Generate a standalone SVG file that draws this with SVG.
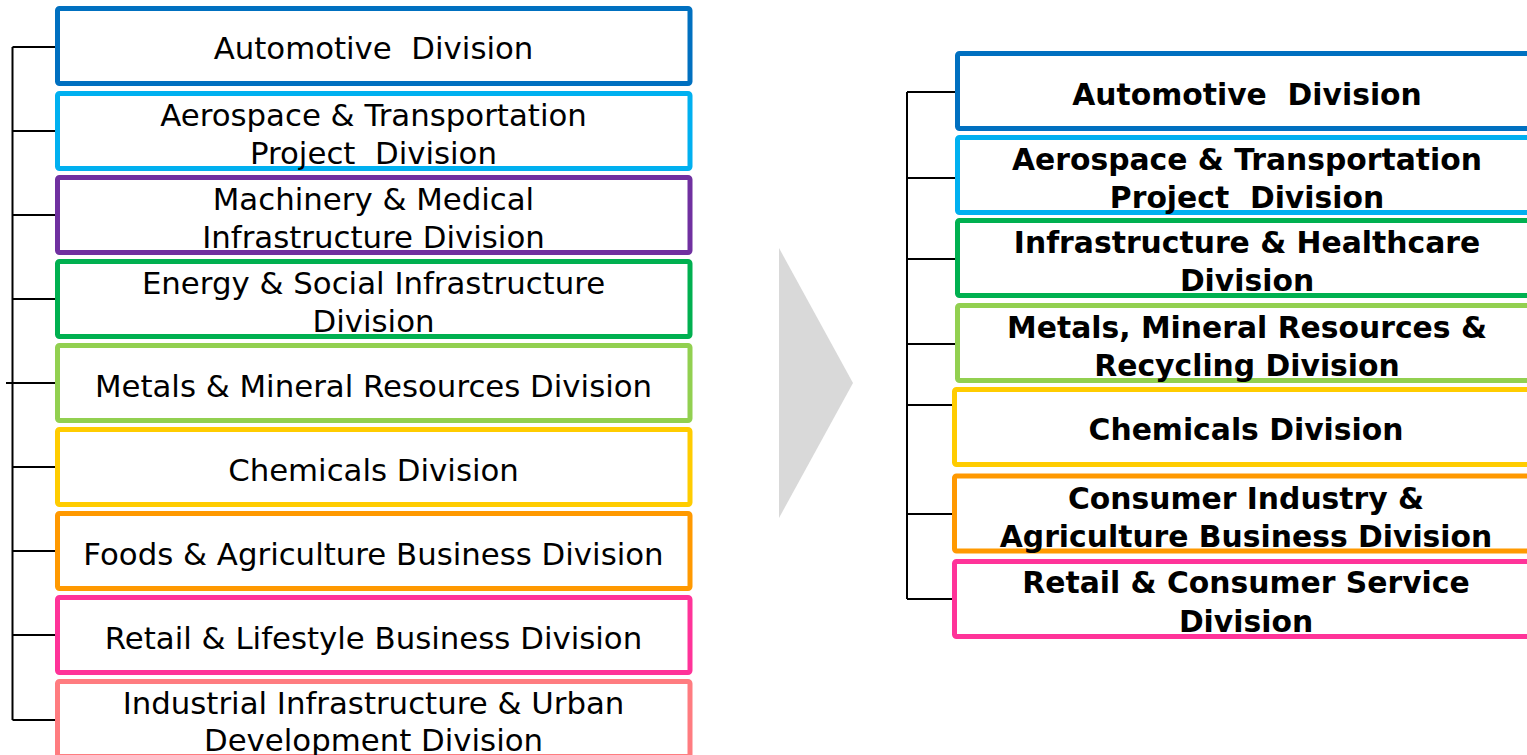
<svg xmlns="http://www.w3.org/2000/svg" width="1527" height="755" viewBox="0 0 1527 755">
<style>
.box{fill:#fff;stroke-width:5;}
.lt{font-family:"DejaVu Sans","Noto Sans",sans-serif;font-size:30.8px;fill:#000;text-anchor:middle;white-space:pre;}
.rt{font-family:"DejaVu Sans","Noto Sans",sans-serif;font-size:29.8px;font-weight:bold;fill:#000;text-anchor:middle;white-space:pre;}
.conn{stroke:#000;stroke-width:2;fill:none;}
</style>
<rect width="1527" height="755" fill="#fff"/>
<g id="connectors">
<path class="conn" d="M12.5,47V720M12.5,47H57M12.5,131H57M12.5,215H57M12.5,299H57M6,383H57M12.5,467H57M12.5,551H57M12.5,635H57M12.5,720H60"/>
<path class="conn" d="M907,92V599M907,92H957M907,178H957M907,259H957M907,344H957M907,405H955M907,514H955M907,599H955"/>
</g>
<g id="arrow"><polygon points="779,248 853,383 779,518" fill="#d9d9d9"/></g>
<g id="l1"><rect class="box" x="57.5" y="8.5" width="632.5" height="75" rx="2" stroke="#0070c0"/><text class="lt" x="373.5" y="59" xml:space="preserve">Automotive  Division</text></g>
<g id="l2"><rect class="box" x="57.5" y="93.5" width="632.5" height="75" rx="2" stroke="#00b0f0"/><text class="lt" x="373.5" y="125.5">Aerospace &amp; Transportation</text><text class="lt" x="373.5" y="163.5" xml:space="preserve">Project  Division</text></g>
<g id="l3"><rect class="box" x="57.5" y="177.5" width="632.5" height="75" rx="2" stroke="#7030a0"/><text class="lt" x="373.5" y="209.5">Machinery &amp; Medical</text><text class="lt" x="373.5" y="248">Infrastructure Division</text></g>
<g id="l4"><rect class="box" x="57.5" y="261.5" width="632.5" height="75" rx="2" stroke="#00b050"/><text class="lt" x="373.5" y="293.5">Energy &amp; Social Infrastructure</text><text class="lt" x="373.5" y="332">Division</text></g>
<g id="l5"><rect class="box" x="57.5" y="345.5" width="632.5" height="75" rx="2" stroke="#92d050"/><text class="lt" x="373.5" y="396.5">Metals &amp; Mineral Resources Division</text></g>
<g id="l6"><rect class="box" x="57.5" y="429.5" width="632.5" height="75" rx="2" stroke="#ffcc00"/><text class="lt" x="373.5" y="480.5">Chemicals Division</text></g>
<g id="l7"><rect class="box" x="57.5" y="513.5" width="632.5" height="75" rx="2" stroke="#ff9900"/><text class="lt" x="373.5" y="564.5">Foods &amp; Agriculture Business Division</text></g>
<g id="l8"><rect class="box" x="57.5" y="597.5" width="632.5" height="75" rx="2" stroke="#ff3399"/><text class="lt" x="373.5" y="648.5">Retail &amp; Lifestyle Business Division</text></g>
<g id="l9"><rect class="box" x="57.5" y="681.5" width="632.5" height="75" rx="2" stroke="#ff7c80"/><text class="lt" x="373.5" y="714">Industrial Infrastructure &amp; Urban</text><text class="lt" x="373.5" y="751">Development Division</text></g>
<g id="r1"><rect class="box" x="957.5" y="53.5" width="600" height="75" rx="2" stroke="#0070c0"/><text class="rt" x="1247" y="104.5" xml:space="preserve">Automotive  Division</text></g>
<g id="r2"><rect class="box" x="957.5" y="137.5" width="600" height="75" rx="2" stroke="#00b0f0"/><text class="rt" x="1247" y="169.5">Aerospace &amp; Transportation</text><text class="rt" x="1247" y="207.5" xml:space="preserve">Project  Division</text></g>
<g id="r3"><rect class="box" x="957.5" y="220.5" width="600" height="75" rx="2" stroke="#00b050"/><text class="rt" x="1247" y="252.5">Infrastructure &amp; Healthcare</text><text class="rt" x="1247" y="290.5">Division</text></g>
<g id="r4"><rect class="box" x="957.5" y="305.5" width="600" height="75" rx="2" stroke="#92d050"/><text class="rt" x="1247" y="337.5">Metals, Mineral Resources &amp;</text><text class="rt" x="1247" y="375.5">Recycling Division</text></g>
<g id="r5"><rect class="box" x="954.5" y="389.5" width="600" height="75" rx="2" stroke="#ffcc00"/><text class="rt" x="1246" y="440">Chemicals Division</text></g>
<g id="r6"><rect class="box" x="954.5" y="476" width="600" height="75" rx="2" stroke="#ff9900"/><text class="rt" x="1246" y="508.5">Consumer Industry &amp;</text><text class="rt" x="1246" y="546.5">Agriculture Business Division</text></g>
<g id="r7"><rect class="box" x="954.5" y="561.5" width="600" height="75" rx="2" stroke="#ff3399"/><text class="rt" x="1246" y="592.5">Retail &amp; Consumer Service</text><text class="rt" x="1246" y="631.5">Division</text></g>
</svg>
